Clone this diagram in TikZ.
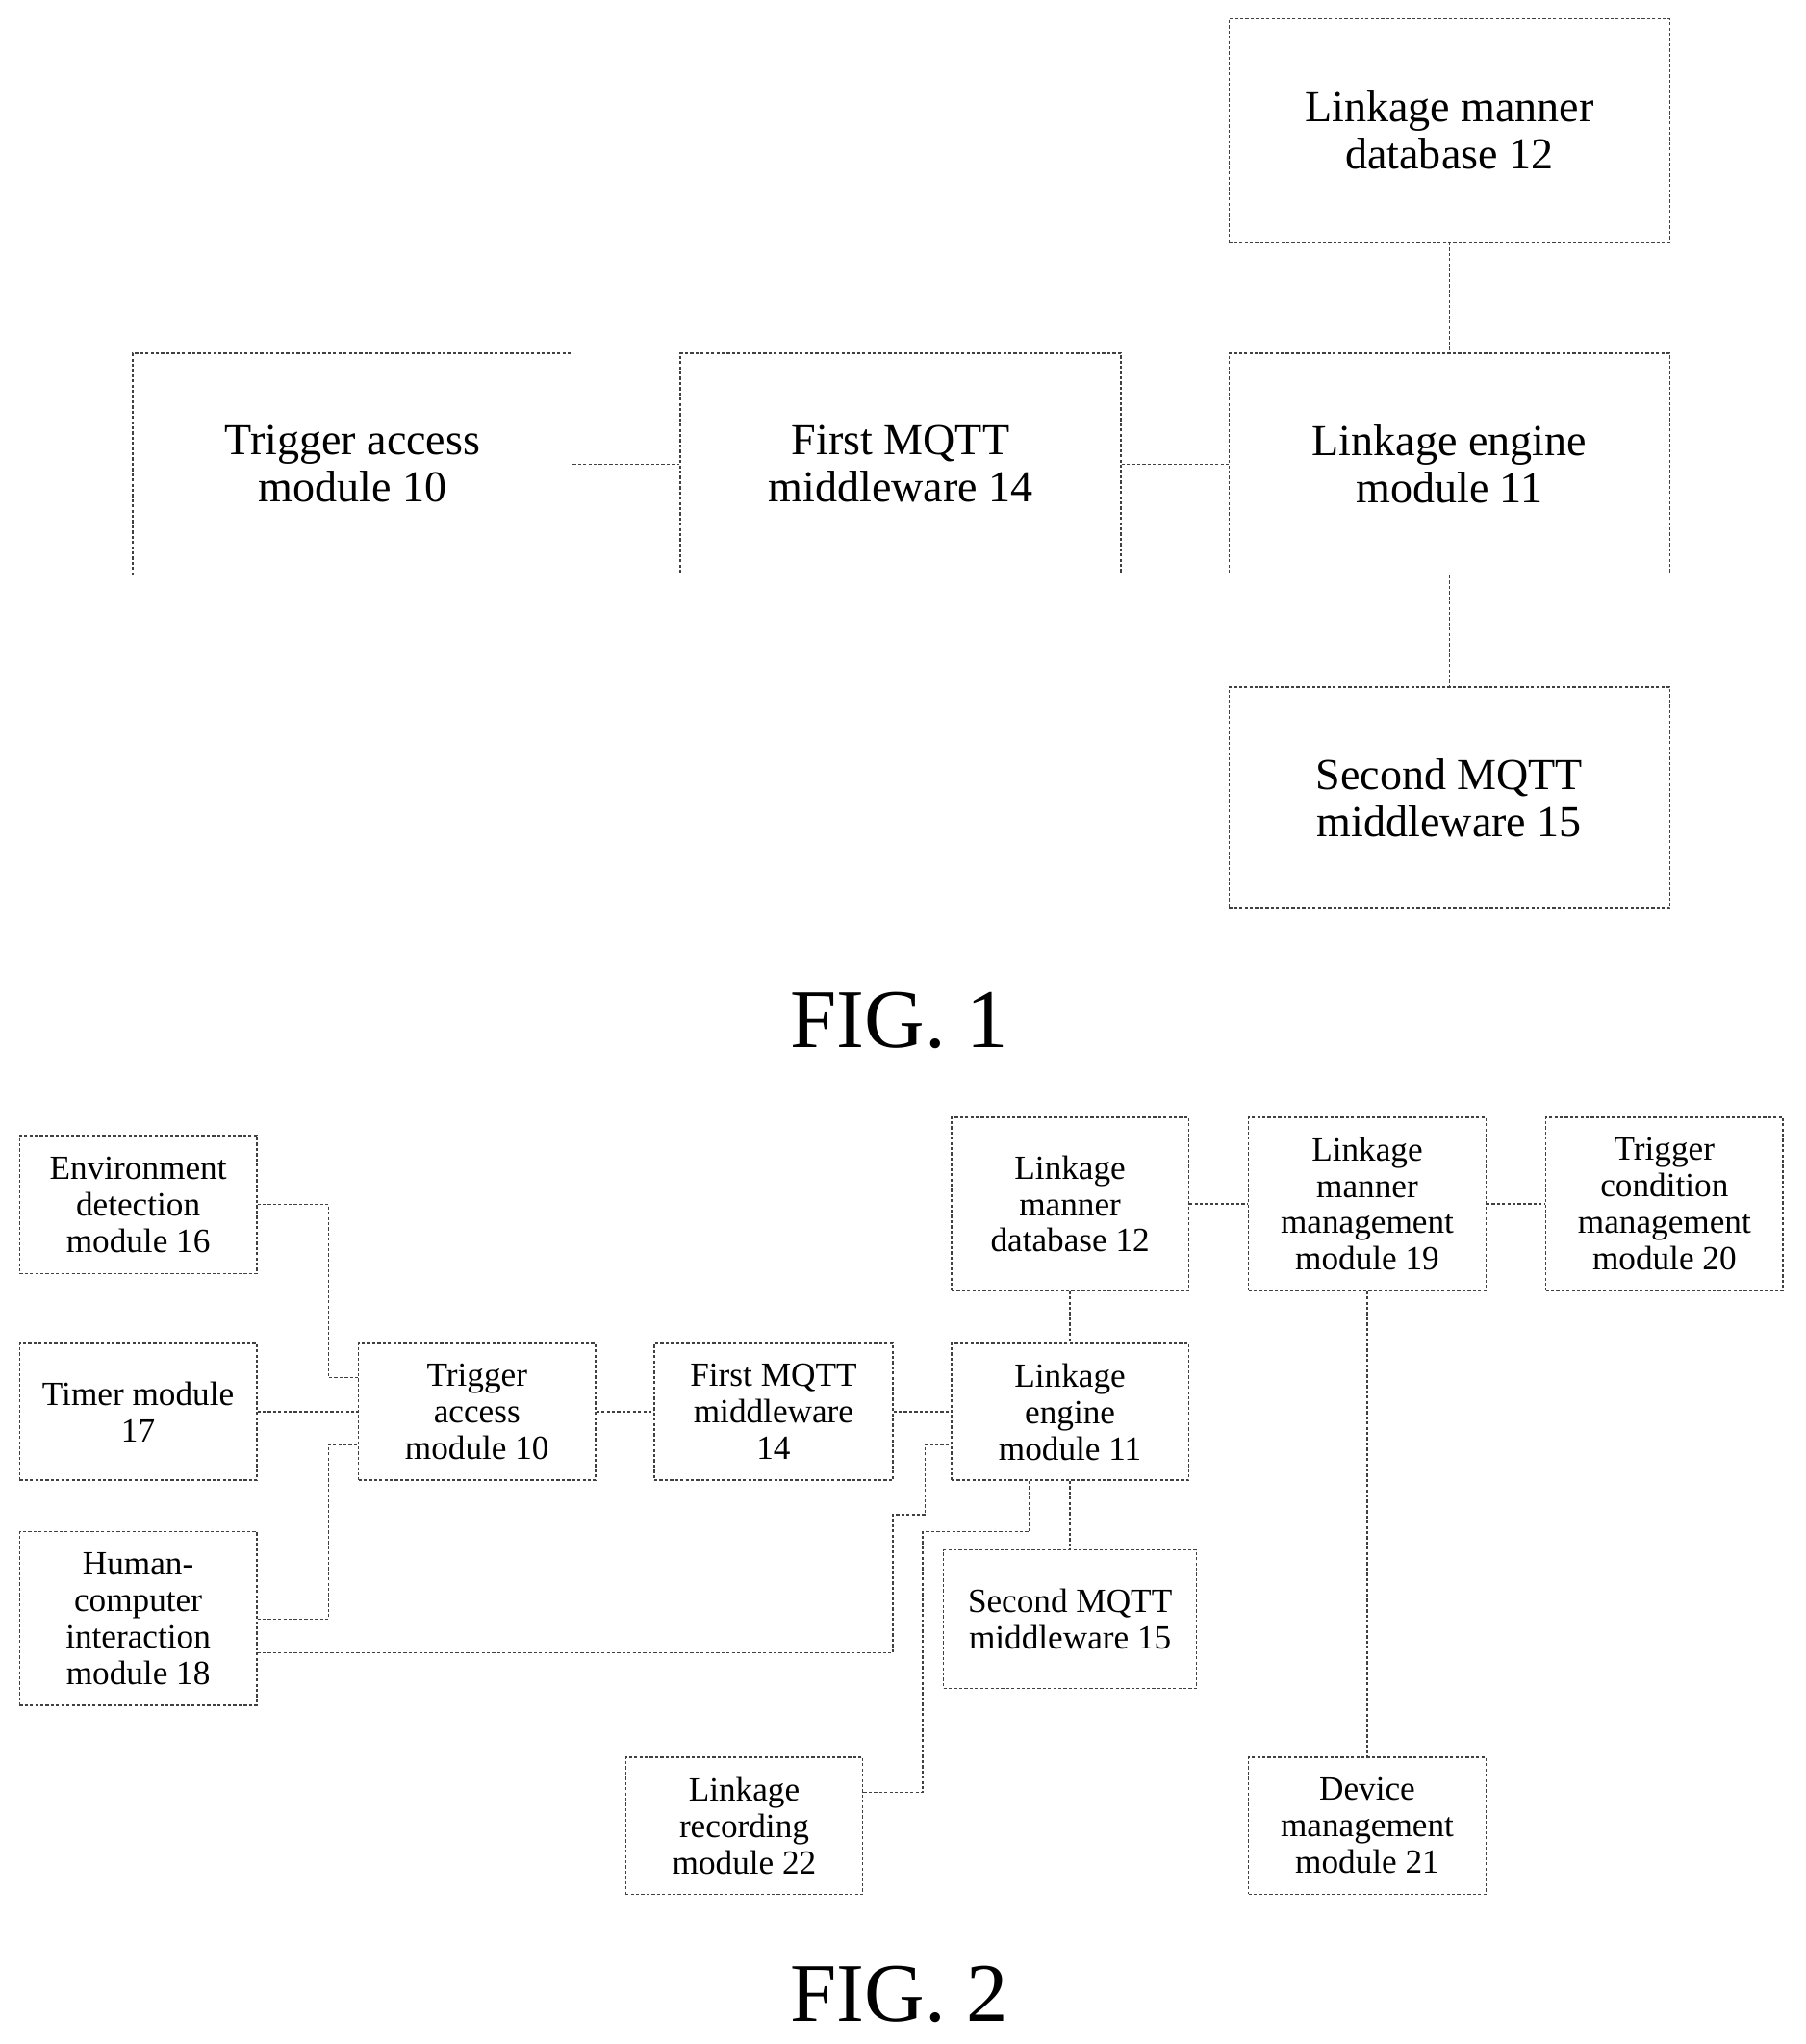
\documentclass[tikz,border=0pt]{standalone}
\usepackage{fontspec}
\setmainfont{Liberation Serif}
\begin{document}
\begin{tikzpicture}[x=0.5pt,y=-0.5pt,
 ln/.style={draw=black!75,line width=0.5pt,dash pattern=on 1.2pt off 0.8pt},
 bx/.style={ln,inner sep=0pt,align=center},
 b1/.style={bx,font=\fontsize{17}{18}\selectfont},
 b2/.style={bx,font=\fontsize{13}{14}\selectfont}]
\useasboundingbox (0,0) rectangle (1385,1568);
\newcommand\bxa[6]{\node[#6,minimum width=#4*0.5pt-#2*0.5pt,minimum height=#5*0.5pt-#3*0.5pt] (#1) at ({(#2+#4)/2},{(#3+#5)/2}) {#1text};}
% Fig 1
\node[b1,minimum width=169pt,minimum height=85.5pt] (db1) at (1112,100) {Linkage manner\\database 12};
\node[b1,minimum width=168.5pt,minimum height=85pt] (ta1) at (270.5,356) {Trigger access\\module 10};
\node[b1,minimum width=169pt,minimum height=85pt] (fm1) at (691,356) {First MQTT\\middleware 14};
\node[b1,minimum width=169pt,minimum height=85pt] (le1) at (1112,356) {Linkage engine\\module 11};
\node[b1,minimum width=169pt,minimum height=85pt] (sm1) at (1112,612) {Second MQTT\\middleware 15};
\draw[ln] (db1)--(le1); \draw[ln] (le1)--(sm1);
\draw[ln] (ta1)--(fm1); \draw[ln] (fm1)--(le1);
\node[font=\fontsize{32}{34}\selectfont] (f1) at (690,783) {FIG. 1};
% Fig 2
\node[b2,minimum width=91pt,minimum height=53pt] (env) at (106,924) {Environment\\detection\\module 16};
\node[b2,minimum width=91pt,minimum height=52.5pt] (tim) at (106,1083) {Timer module\\17};
\node[b2,minimum width=91pt,minimum height=66.5pt] (hci) at (106,1241.5) {Human-\\computer\\interaction\\module 18};
\node[b2,minimum width=91pt,minimum height=52.5pt] (ta) at (366,1083) {Trigger\\access\\module 10};
\node[b2,minimum width=91.5pt,minimum height=52.5pt] (fm) at (593.5,1083) {First MQTT\\middleware\\14};
\node[b2,minimum width=91pt,minimum height=52.5pt] (le) at (821,1083) {Linkage\\engine\\module 11};
\node[b2,minimum width=91pt,minimum height=66.5pt] (db) at (821,923.5) {Linkage\\manner\\database 12};
\node[b2,minimum width=91pt,minimum height=66.5pt] (lm) at (1049,923.5) {Linkage\\manner\\management\\module 19};
\node[b2,minimum width=91pt,minimum height=66.5pt] (tc) at (1277,923.5) {Trigger\\condition\\management\\module 20};
\node[b2,minimum width=97pt,minimum height=53pt] (sm) at (821,1242) {Second MQTT\\middleware 15};
\node[b2,minimum width=91pt,minimum height=52.5pt] (lr) at (571,1400.5) {Linkage\\recording\\module 22};
\node[b2,minimum width=91pt,minimum height=52.5pt] (dm) at (1049,1400.5) {Device\\management\\module 21};
\coordinate (a) at (252,924);
\draw[ln] (env.east|-a)--(a)--(252,1057)--(ta.west|-0,1057);
\draw[ln] (tim)--(ta);
\draw[ln] (hci.east|-0,1242)--(252,1242)--(252,1108)--(ta.west|-0,1108);
\draw[ln] (ta)--(fm); \draw[ln] (fm)--(le);
\draw[ln] (db)--(le); \draw[ln] (le)--(sm);
\draw[ln] (db)--(lm); \draw[ln] (lm)--(tc); \draw[ln] (lm)--(dm);
\draw[ln] (hci.east|-0,1268)--(685,1268)--(685,1162)--(710,1162)--(710,1108)--(le.west|-0,1108);
\draw[ln] (lr.east|-0,1375)--(708,1375)--(708,1175)--(790,1175)--(790,1135);
\node[font=\fontsize{32}{34}\selectfont] (f2) at (690,1530) {FIG. 2};
\end{tikzpicture}
\end{document}
